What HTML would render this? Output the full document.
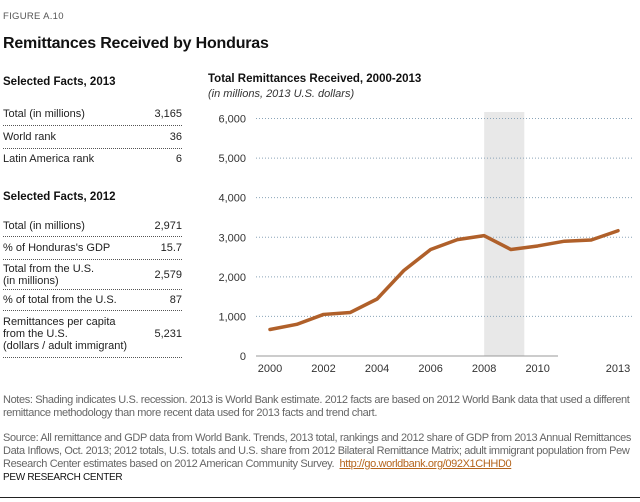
<!DOCTYPE html>
<html><head><meta charset="utf-8"><style>
body{margin:0;width:640px;height:502px;background:#fff;font-family:"Liberation Sans",sans-serif;position:relative;overflow:hidden;color:#222}
.a{position:absolute;white-space:nowrap}
.fig{left:3px;top:11px;font-size:9.5px;color:#555;letter-spacing:0.3px}
.title{left:3px;top:35px;font-size:16px;font-weight:bold;color:#111;letter-spacing:-0.2px}
.h{font-size:11.5px;font-weight:bold;color:#111;left:3px}
.row{left:3px;width:179px;font-size:11px;color:#222;border-bottom:1px dotted #555;display:flex;justify-content:space-between;align-items:center;line-height:12px}
.note{left:3px;font-size:11px;color:#666;letter-spacing:-0.38px;line-height:13px}
</style></head><body>
<div class="a fig">FIGURE A.10</div>
<div class="a title">Remittances Received by Honduras</div>

<div class="a h" style="top:76px">Selected Facts, 2013</div>
<div class="a row" style="top:103px;height:22px"><span>Total (in millions)</span><span>3,165</span></div>
<div class="a row" style="top:126px;height:22px"><span>World rank</span><span>36</span></div>
<div class="a row" style="top:149px;height:20px;border-bottom:none"><span>Latin America rank</span><span>6</span></div>

<div class="a h" style="top:191px">Selected Facts, 2012</div>
<div class="a row" style="top:215px;height:21px"><span>Total (in millions)</span><span>2,971</span></div>
<div class="a row" style="top:237px;height:22px"><span>% of Honduras's GDP</span><span>15.7</span></div>
<div class="a row" style="top:260px;height:29px"><span>Total from the U.S.<br>(in millions)</span><span>2,579</span></div>
<div class="a row" style="top:290px;height:20px"><span>% of total from the U.S.</span><span>87</span></div>
<div class="a row" style="top:311px;height:46px"><span>Remittances per capita<br>from the U.S.<br>(dollars / adult immigrant)</span><span>5,231</span></div>

<div class="a" style="left:208px;top:73px;font-size:11.5px;font-weight:bold;color:#111">Total Remittances Received, 2000-2013</div>
<div class="a" style="left:208px;top:88px;font-size:11px;font-style:italic;color:#333">(in millions, 2013 U.S. dollars)</div>

<svg class="a" style="left:0;top:0" width="640" height="502" id="chart"></svg>

<div class="a note" style="top:394px">Notes: Shading indicates U.S. recession. 2013 is World Bank estimate. 2012 facts are based on 2012 World Bank data that used a different<br>remittance methodology than more recent data used for 2013 facts and trend chart.</div>
<div class="a note" style="top:432px">Source: All remittance and GDP data from World Bank. Trends, 2013 total, rankings and 2012 share of GDP from 2013 Annual Remittances<br>Data Inflows, Oct. 2013; 2012 totals, U.S. totals and U.S. share from 2012 Bilateral Remittance Matrix; adult immigrant population from Pew<br>Research Center estimates based on 2012 American Community Survey. &nbsp;<span style="color:#b5651d;text-decoration:underline">http://go.worldbank.org/092X1CHHD0</span></div>
<div class="a" style="left:3px;top:472px;font-size:10px;color:#111;letter-spacing:-0.3px">PEW RESEARCH CENTER</div>
<div class="a" style="left:0;top:497px;width:640px;height:1px;background:#222"></div>

<script>
const years=[2000,2001,2002,2003,2004,2005,2006,2007,2008,2009,2010,2011,2012,2013];
const values=[670,800,1050,1100,1440,2160,2690,2940,3040,2690,2780,2900,2930,3165];
const yTicks=[0,1000,2000,3000,4000,5000,6000];
const yTickLabels=["0","1,000","2,000","3,000","4,000","5,000","6,000"];
const xTickLabels=[2000,2002,2004,2006,2008,2010,2013];
const recession=[2008,2009.5];
const NS="http://www.w3.org/2000/svg";
const svg=document.getElementById('chart');
const x=y=>270+(y-2000)*(618-270)/13;
const yS=v=>356-v*(356-118.5)/6000;
function mk(t,a){const e=document.createElementNS(NS,t);for(const k in a)e.setAttribute(k,a[k]);svg.appendChild(e);return e;}
let r=mk('rect',{x:x(recession[0]),y:112,width:x(recession[1])-x(recession[0]),height:244,fill:'#e8e8e8'});


yTicks.forEach((v,i)=>{
  if(v>0){const g=mk('line',{x1:256,x2:632,y1:yS(v),y2:yS(v),stroke:'#8aa4b8','stroke-width':1,'stroke-dasharray':'1,2'});
  
  }
  const t=mk('text',{x:246,y:yS(v)+4,'text-anchor':'end','font-size':11,fill:'#333'});
  t.textContent=yTickLabels[i];
  
  
});
const ax=mk('line',{x1:256,x2:558,y1:356,y2:356,stroke:'#999','stroke-width':1});


xTickLabels.forEach(yr=>{
  const t=mk('text',{x:x(yr),y:372,'text-anchor':'middle','font-size':11,fill:'#333'});
  t.textContent=yr;
  
  
});
const p=mk('polyline',{points:years.map((yr,i)=>x(yr)+','+yS(values[i])).join(' '),fill:'none',stroke:'#b0602a','stroke-width':3.5,'stroke-linejoin':'round','stroke-linecap':'round'});


</script>
</body></html>
